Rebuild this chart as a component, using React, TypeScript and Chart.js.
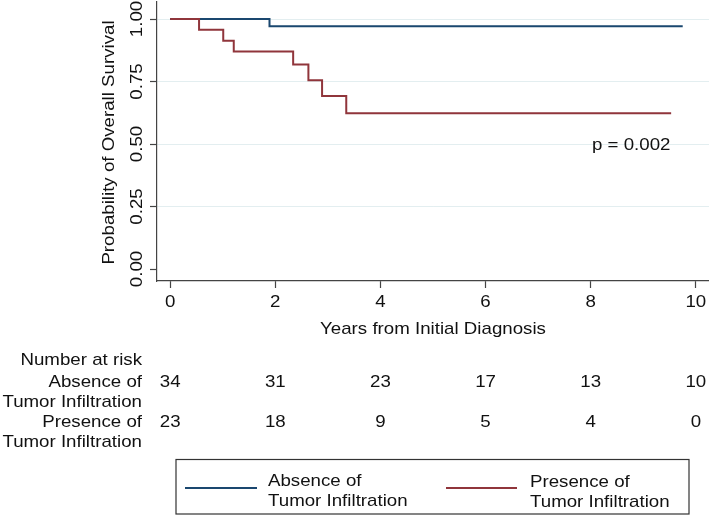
import React, { useEffect, useRef } from 'react';
import { Chart, registerables } from 'chart.js';

Chart.register(...registerables);

const W = 709;
const H = 516;
const FONT = '"Liberation Sans", Arial, sans-serif';
const FS = 17;
const SX = 1.1;

// ---- data ----
const xTicks = [0, 2, 4, 6, 8, 10];
const yTicks = [0, 0.25, 0.5, 0.75, 1];
const yTickLabels = ['0.00', '0.25', '0.50', '0.75', '1.00'];

const absenceTimes = [0, 1.89, 9.75];
const absenceSurv = [1, 0.971, 0.971];
const presenceTimes = [0, 0.55, 1.01, 1.21, 2.34, 2.63, 2.89, 3.35, 9.53];
const presenceSurv = [1, 0.957, 0.913, 0.87, 0.818, 0.755, 0.692, 0.623, 0.623];

const riskTimes = [0, 2, 4, 6, 8, 10];
const absenceAtRisk = [34, 31, 23, 17, 13, 10];
const presenceAtRisk = [23, 18, 9, 5, 4, 0];

const pValueText = 'p = 0.002';
const pValueX = 8.77;
const pValueY = 0.5;

const xTitle = 'Years from Initial Diagnosis';
const yTitle = 'Probability of Overall Survival';
const absenceLabel = ['Absence of', 'Tumor Infiltration'];
const presenceLabel = ['Presence of', 'Tumor Infiltration'];

const BLUE = '#1a476f';
const RED = '#90353b';
const TEXT = '#111';
const AXIS = '#444';

function drawText(
  ctx: CanvasRenderingContext2D,
  s: string,
  x: number,
  y: number,
  align: CanvasTextAlign,
  rot = 0
) {
  ctx.save();
  ctx.translate(x, y);
  if (rot) ctx.rotate(rot);
  ctx.scale(SX, 1);
  ctx.textAlign = align;
  ctx.textBaseline = 'alphabetic';
  ctx.fillText(s, 0, 0);
  ctx.restore();
}

const annotPlugin = {
  id: 'kmAnnot',
  afterDraw(chart: any) {
    const ctx: CanvasRenderingContext2D = chart.ctx;
    const xs = chart.scales.x;
    const ys = chart.scales.y;
    const ca = chart.chartArea;
    ctx.save();
    ctx.fillStyle = TEXT;
    ctx.font = `${FS}px ${FONT}`;

    // x tick labels
    xTicks.forEach((v) => drawText(ctx, String(v), xs.getPixelForValue(v), ca.bottom + 25.5, 'center'));
    // y tick labels (rotated)
    yTicks.forEach((v, i) =>
      drawText(ctx, yTickLabels[i], ca.left - 15, ys.getPixelForValue(v), 'center', -Math.PI / 2)
    );
    // axis titles
    drawText(ctx, yTitle, ca.left - 43, (ca.top + ca.bottom) / 2 + 1, 'center', -Math.PI / 2);
    drawText(ctx, xTitle, (ca.left + ca.right) / 2, ca.bottom + 53, 'center');

    // p-value
    drawText(ctx, pValueText, xs.getPixelForValue(pValueX), ys.getPixelForValue(pValueY) + 6, 'center');

    // number at risk table
    const labX = ca.left - 15;
    drawText(ctx, 'Number at risk', labX, 365, 'right');
    drawText(ctx, absenceLabel[0], labX, 387.3, 'right');
    drawText(ctx, absenceLabel[1], labX, 406.7, 'right');
    drawText(ctx, presenceLabel[0], labX, 427.3, 'right');
    drawText(ctx, presenceLabel[1], labX, 446.5, 'right');
    riskTimes.forEach((t, i) => {
      const px = xs.getPixelForValue(t);
      drawText(ctx, String(absenceAtRisk[i]), px, 387.3, 'center');
      drawText(ctx, String(presenceAtRisk[i]), px, 427.3, 'center');
    });

    // legend box
    ctx.strokeStyle = '#333';
    ctx.lineWidth = 1.2;
    ctx.strokeRect(176, 459.5, 513, 54.5);
    ctx.lineWidth = 2;
    ctx.strokeStyle = BLUE;
    ctx.beginPath();
    ctx.moveTo(185, 488);
    ctx.lineTo(257, 488);
    ctx.stroke();
    ctx.strokeStyle = RED;
    ctx.beginPath();
    ctx.moveTo(446, 488);
    ctx.lineTo(517, 488);
    ctx.stroke();
    drawText(ctx, absenceLabel[0], 268, 486.3, 'left');
    drawText(ctx, absenceLabel[1], 268, 506.3, 'left');
    drawText(ctx, presenceLabel[0], 530, 486.7, 'left');
    drawText(ctx, presenceLabel[1], 530, 506.7, 'left');
    ctx.restore();
  },
};

export default function App() {
  const ref = useRef<HTMLCanvasElement | null>(null);

  useEffect(() => {
    if (!ref.current) return;
    const chart = new Chart(ref.current, {
      type: 'line',
      data: {
        datasets: [
          {
            label: 'Presence of Tumor Infiltration',
            data: presenceTimes.map((t, i) => ({ x: t, y: presenceSurv[i] })),
            borderColor: RED,
            borderWidth: 2,
            pointRadius: 0,
            stepped: 'before',
            fill: false,
            order: 0,
          },
          {
            label: 'Absence of Tumor Infiltration',
            data: absenceTimes.map((t, i) => ({ x: t, y: absenceSurv[i] })),
            borderColor: BLUE,
            borderWidth: 2,
            pointRadius: 0,
            stepped: 'before',
            fill: false,
            order: 1,
          },
        ],
      },
      options: {
        responsive: false,
        animation: false,
        events: [],
        layout: { padding: { top: 2, left: 0, right: 0, bottom: 0 } },
        plugins: { legend: { display: false }, tooltip: { enabled: false }, title: { display: false } },
        scales: {
          x: {
            type: 'linear',
            min: -0.25,
            max: 10.25,
            afterBuildTicks: (s: any) => {
              s.ticks = xTicks.map((v) => ({ value: v }));
            },
            afterFit: (s: any) => {
              s.height = H - 281;
            },
            ticks: { display: false },
            grid: {
              display: true,
              drawOnChartArea: false,
              drawTicks: true,
              tickLength: 7,
              tickColor: AXIS,
              tickWidth: 1.2,
            },
            border: { display: true, color: AXIS, width: 1.2 },
          },
          y: {
            type: 'linear',
            min: -0.048,
            max: 1.068,
            afterBuildTicks: (s: any) => {
              s.ticks = yTicks.map((v) => ({ value: v }));
            },
            afterFit: (s: any) => {
              s.width = 157;
            },
            ticks: { display: false },
            grid: {
              display: true,
              drawOnChartArea: true,
              drawTicks: true,
              tickLength: 7,
              tickColor: AXIS,
              tickWidth: 1.2,
              lineWidth: 1,
              color: (c: any) => (c.tick && c.tick.value === 0 ? 'rgba(0,0,0,0)' : '#e3eef0'),
            },
            border: { display: true, color: AXIS, width: 1.2 },
          },
        },
      },
      plugins: [annotPlugin],
    } as any);
    return () => chart.destroy();
  }, []);

  return (
    <div style={{ position: 'absolute', left: 0, top: 0, width: W, height: H, background: '#fff' }}>
      <canvas ref={ref} width={W} height={H} style={{ display: 'block', width: W, height: H }} />
    </div>
  );
}
